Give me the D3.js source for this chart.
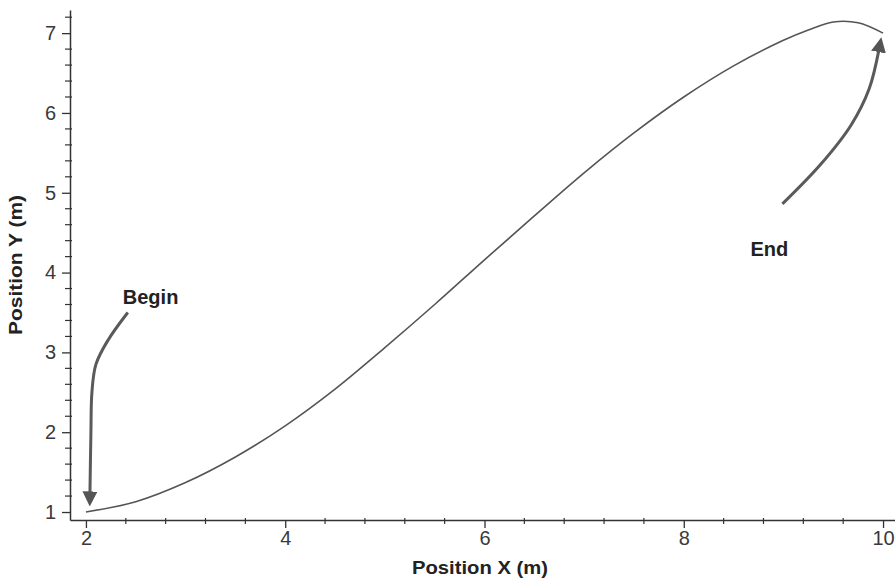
<!DOCTYPE html>
<html>
<head>
<meta charset="utf-8">
<script src="https://cdn.jsdelivr.net/npm/d3@7"></script>
<style>
  body { margin: 0; background: #fff; }
  svg { display: block; }
</style>
</head>
<body>
<div class="chart"></div>
<script>
// path samples
const posX = [2, 2.5, 3, 3.5, 4, 4.5, 5, 5.5, 6, 6.5, 7, 7.5, 8, 8.5, 9, 9.25, 9.5, 9.75, 10];
const posY = [1.0, 1.13, 1.37, 1.69, 2.08, 2.54, 3.06, 3.6, 4.16, 4.71, 5.25, 5.75, 6.2, 6.59, 6.91, 7.04, 7.14, 7.13, 7.0];

const xTicks = [2, 4, 6, 8, 10];
const yTicks = [1, 2, 3, 4, 5, 6, 7];

// annotation arrows (data units)
const beginArrow = [[2.42, 3.5], [2.22, 3.15], [2.1, 2.85], [2.06, 2.5], [2.05, 2.0], [2.04, 1.22]];
const endArrow = [[8.99, 4.86], [9.37, 5.35], [9.68, 5.85], [9.86, 6.3], [9.96, 6.8]];
const notes = [
  { text: 'Begin', x: 2.37, y: 3.61 },
  { text: 'End', x: 8.67, y: 4.21 }
];

const width = 895;
const height = 584;

const svg = d3.select('.chart')
  .append('svg')
  .attr('width', width)
  .attr('height', height);

const x = d3.scaleLinear().domain([1.84, 10.12]).range([70, 895]);
const y = d3.scaleLinear().domain([0.9, 7.29]).range([520, 10]);

const font = 'Liberation Sans, Arial, sans-serif';

// minor ticks
const xMinor = d3.range(2, 10.01, 0.4).filter(v => xTicks.indexOf(Math.round(v * 10) / 10) < 0);
const yMinor = d3.range(1, 7.21, 0.2).filter(v => yTicks.indexOf(Math.round(v * 10) / 10) < 0);

svg.append('g')
  .selectAll('line')
  .data(xMinor)
  .enter().append('line')
  .attr('x1', d => x(d)).attr('x2', d => x(d))
  .attr('y1', 518).attr('y2', 524)
  .attr('stroke', '#333').attr('stroke-width', 1.2);

svg.append('g')
  .selectAll('line')
  .data(yMinor)
  .enter().append('line')
  .attr('y1', d => y(d)).attr('y2', d => y(d))
  .attr('x1', 65).attr('x2', 72)
  .attr('stroke', '#333').attr('stroke-width', 1.2);

// x axis
const xAxis = svg.append('g')
  .attr('transform', 'translate(0,520)')
  .call(d3.axisBottom(x).tickValues(xTicks).tickFormat(d3.format('d'))
    .tickSize(8).tickSizeOuter(0).tickPadding(3));
xAxis.select('.domain').attr('stroke', '#333').attr('stroke-width', 1.5);
xAxis.selectAll('.tick line').attr('stroke', '#333').attr('stroke-width', 1.3);
xAxis.selectAll('.tick text')
  .attr('font-family', font).attr('font-size', '20px').attr('fill', '#3a3a3a');

// y axis
const yAxis = svg.append('g')
  .attr('transform', 'translate(70,0)')
  .call(d3.axisLeft(y).tickValues(yTicks).tickFormat(d3.format('d'))
    .tickSize(8).tickSizeOuter(0).tickPadding(6));
yAxis.select('.domain').attr('stroke', '#333').attr('stroke-width', 1.5);
yAxis.selectAll('.tick line').attr('stroke', '#333').attr('stroke-width', 1.3);
yAxis.selectAll('.tick text')
  .attr('font-family', font).attr('font-size', '20px').attr('fill', '#3a3a3a');

// axis titles
svg.append('text')
  .attr('x', 480).attr('y', 574)
  .attr('text-anchor', 'middle')
  .attr('font-family', font).attr('font-weight', 'bold').attr('font-size', '18px')
  .attr('textLength', 136).attr('lengthAdjust', 'spacingAndGlyphs')
  .attr('fill', '#222')
  .text('Position X (m)');

svg.append('text')
  .attr('transform', 'translate(22,265) rotate(-90)')
  .attr('text-anchor', 'middle')
  .attr('font-family', font).attr('font-weight', 'bold').attr('font-size', '18px')
  .attr('textLength', 140).attr('lengthAdjust', 'spacingAndGlyphs')
  .attr('fill', '#222')
  .text('Position Y (m)');

// trajectory
const line = d3.line()
  .x(d => x(d[0]))
  .y(d => y(d[1]))
  .curve(d3.curveCatmullRom.alpha(0.5));

svg.append('path')
  .datum(posX.map((v, i) => [v, posY[i]]))
  .attr('d', line)
  .attr('fill', 'none')
  .attr('stroke', '#555')
  .attr('stroke-width', 1.6);

// arrows
svg.append('defs').append('marker')
  .attr('id', 'head')
  .attr('viewBox', '0 0 10 10')
  .attr('refX', 2).attr('refY', 5)
  .attr('markerWidth', 5).attr('markerHeight', 5)
  .attr('markerUnits', 'strokeWidth')
  .attr('orient', 'auto')
  .append('path')
  .attr('d', 'M0,0 L10,5 L0,10 Z')
  .attr('fill', '#555');

const arrowLine = d3.line()
  .x(d => x(d[0]))
  .y(d => y(d[1]))
  .curve(d3.curveCatmullRom.alpha(0.5));

[beginArrow, endArrow].forEach(a => {
  svg.append('path')
    .datum(a)
    .attr('d', arrowLine)
    .attr('fill', 'none')
    .attr('stroke', '#5a5a5a')
    .attr('stroke-width', 3)
    .attr('marker-end', 'url(#head)');
});

// labels
svg.selectAll('text.note')
  .data(notes)
  .enter().append('text')
  .attr('class', 'note')
  .attr('x', d => x(d.x))
  .attr('y', d => y(d.y))
  .attr('font-family', font).attr('font-weight', 'bold').attr('font-size', '20px')
  .attr('fill', '#222')
  .text(d => d.text);
</script>
</body>
</html>
